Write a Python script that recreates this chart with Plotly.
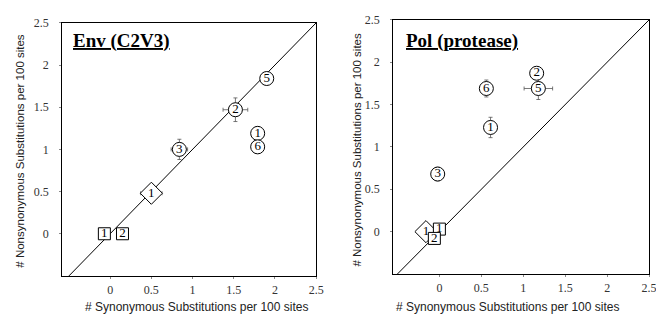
import plotly.graph_objects as go

# ---- Data ----
# Env (C2V3) panel
env_circle_x = [0.84, 1.52, 1.90, 1.79, 1.79]
env_circle_y = [1.00, 1.47, 1.84, 1.19, 1.03]
env_circle_lbl = ["3", "2", "5", "1", "6"]
env_circle_ex = [0.10, 0.15, 0.07, 0.05, 0.06]
env_circle_ey = [0.12, 0.14, 0.07, 0.08, 0.06]

env_diamond_x = [0.50]
env_diamond_y = [0.48]
env_diamond_lbl = ["1"]
env_diamond_ex = [0.13]
env_diamond_ey = [0.10]

env_square_x = [-0.07, 0.15]
env_square_y = [0.0, 0.0]
env_square_lbl = ["1", "2"]

# Pol (protease) panel
pol_circle_x = [1.16, 1.18, 0.56, 0.61, -0.02]
pol_circle_y = [1.87, 1.69, 1.69, 1.23, 0.68]
pol_circle_lbl = ["2", "5", "6", "1", "3"]
pol_circle_ex = [0.03, 0.17, 0.02, 0.02, 0.02]
pol_circle_ey = [0.05, 0.13, 0.10, 0.12, 0.08]

pol_diamond_x = [-0.16]
pol_diamond_y = [0.0]
pol_diamond_lbl = ["1"]

pol_square_x = [0.0, -0.06]
pol_square_y = [0.03, -0.08]
pol_square_lbl = ["1", "2"]

diag = [-0.5, 2.5]
tick_vals = [0, 0.5, 1, 1.5, 2, 2.5]
tick_text = ["0", "0.5", "1", "1.5", "2", "2.5"]

panel_titles = ["Env (C2V3)", "Pol (protease)"]
x_title = "# Synonymous Substitutions per 100 sites"
y_title = "# Nonsynonymous Substitutions per 100 sites"

SERIF = "Liberation Serif, Times New Roman, serif"
SANS = "Liberation Sans, Arial, sans-serif"

fig = go.Figure()


def add_panel(xa, ya, cx, cy, cl, cex, cey, dx, dy, dl, dex, dey, sx, sy, sl):
    fig.add_trace(go.Scatter(x=diag, y=diag, mode="lines", xaxis=xa, yaxis=ya,
                             line=dict(color="black", width=1), showlegend=False,
                             hoverinfo="skip"))
    err = dict(thickness=0.8, width=2, color="#555")
    fig.add_trace(go.Scatter(
        x=cx, y=cy, text=cl, mode="markers+text", xaxis=xa, yaxis=ya,
        marker=dict(symbol="circle", size=14, color="white",
                    line=dict(color="black", width=1)),
        textfont=dict(family=SERIF, size=13, color="black"),
        textposition="middle center",
        error_x=dict(type="data", array=cex, **err),
        error_y=dict(type="data", array=cey, **err),
        showlegend=False))
    dkw = {}
    if dex is not None:
        dkw = dict(error_x=dict(type="data", array=dex, **err),
                   error_y=dict(type="data", array=dey, **err))
    fig.add_trace(go.Scatter(
        x=dx, y=dy, text=dl, mode="markers+text", xaxis=xa, yaxis=ya,
        marker=dict(symbol="diamond", size=17, color="white",
                    line=dict(color="black", width=1)),
        textfont=dict(family=SERIF, size=13, color="black"),
        textposition="middle center", showlegend=False, **dkw))
    fig.add_trace(go.Scatter(
        x=sx, y=sy, text=sl, mode="markers+text", xaxis=xa, yaxis=ya,
        marker=dict(symbol="square", size=12, color="white",
                    line=dict(color="black", width=1)),
        textfont=dict(family=SERIF, size=13, color="black"),
        textposition="middle center", showlegend=False))


add_panel("x", "y", env_circle_x, env_circle_y, env_circle_lbl, env_circle_ex, env_circle_ey,
          env_diamond_x, env_diamond_y, env_diamond_lbl, env_diamond_ex, env_diamond_ey,
          env_square_x, env_square_y, env_square_lbl)
add_panel("x2", "y2", pol_circle_x, pol_circle_y, pol_circle_lbl, pol_circle_ex, pol_circle_ey,
          pol_diamond_x, pol_diamond_y, pol_diamond_lbl, None, None,
          pol_square_x, pol_square_y, pol_square_lbl)

# the page body has an 8px default margin; lay the figure out in window pixels
OFF = 8
W, H = 664 - OFF, 317 - OFF


def dom_x(a, b):
    return [(a - OFF) / W, (b - OFF) / W]


def dom_y(top, bottom):
    return [(H - (bottom - OFF)) / H, (H - (top - OFF)) / H]


def px(x):
    return (x - OFF) / W


def py(y):
    return (H - (y - OFF)) / H


ax_common = dict(showgrid=False, zeroline=False, showline=True, mirror=True,
                 linecolor="black", linewidth=1.3, ticks="outside", ticklen=2,
                 tickcolor="#888", tickvals=tick_vals, ticktext=tick_text,
                 tickfont=dict(family=SERIF, size=12, color="#333"), fixedrange=True)

fig.update_layout(
    width=W, height=H, margin=dict(l=0, r=0, t=0, b=0),
    paper_bgcolor="white", plot_bgcolor="white",
    xaxis=dict(domain=dom_x(63, 320), range=[-0.58, 2.5], anchor="y", **ax_common),
    yaxis=dict(domain=dom_y(16, 275), range=[-0.5, 2.5], anchor="x", ticklabelstandoff=8, **ax_common),
    xaxis2=dict(domain=dom_x(398, 657), range=[-0.55, 2.5], anchor="y2", **ax_common),
    yaxis2=dict(domain=dom_y(13, 273), range=[-0.5, 2.5], anchor="x2", ticklabelstandoff=8, **ax_common),
)

ann = []
# panel titles
ann.append(dict(text="<b><u>" + panel_titles[0] + "</u></b>", x=px(72), y=py(35),
                xref="paper", yref="paper", xanchor="left", yanchor="middle", showarrow=False,
                font=dict(family=SERIF, size=19, color="black")))
ann.append(dict(text="<b><u>" + panel_titles[1] + "</u></b>", x=px(409), y=py(35),
                xref="paper", yref="paper", xanchor="left", yanchor="middle", showarrow=False,
                font=dict(family=SERIF, size=19, color="black")))
# axis titles
for cx, cy in [(199, 307), (514, 307)]:
    ann.append(dict(text=x_title, x=px(cx), y=py(cy), xref="paper", yref="paper",
                    xanchor="center", yanchor="middle", showarrow=False,
                    font=dict(family=SANS, size=12, color="#222")))
for cx, cy in [(20, 147), (361, 146)]:
    ann.append(dict(text=y_title, x=px(cx), y=py(cy), xref="paper", yref="paper",
                    xanchor="center", yanchor="middle", showarrow=False, textangle=-90,
                    font=dict(family=SANS, size=11.5, color="#222")))
fig.update_layout(annotations=ann)

fig.write_html("out.html")
